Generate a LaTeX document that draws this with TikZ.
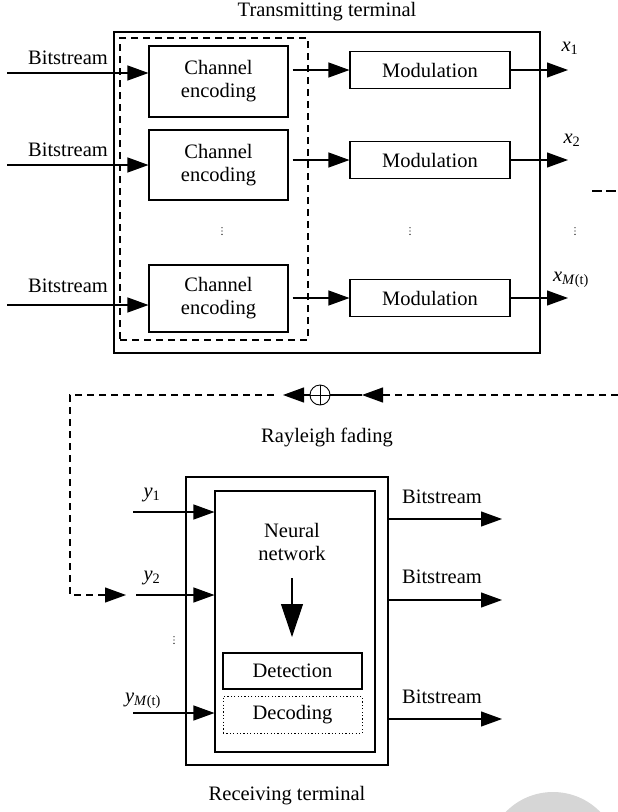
\documentclass[tikz,border=0pt]{standalone}
\usepackage{fontspec}
\setmainfont{Liberation Serif}
\usetikzlibrary{arrows.meta}
\begin{document}
\begin{tikzpicture}[x=1pt,y=-1pt,
  every node/.style={font=\fontsize{20.5}{23}\selectfont},
  line width=1.1pt,
  box/.style={draw, rectangle, inner sep=0pt, align=center},
  lbl/.style={inner sep=0pt, align=center},
  arr/.style={-{Triangle[length=21pt,width=15pt]}},
  bigarr/.style={-{Triangle[length=33pt,width=22pt]}},
  dsh/.style={dash pattern=on 7pt off 5pt},
  dts/.style={inner sep=0pt, minimum width=3pt, minimum height=9pt,
    path picture={\fill (path picture bounding box.center) ++(0,-3.3) circle (0.7pt)
      (path picture bounding box.center) circle (0.7pt)
      (path picture bounding box.center) ++(0,3.3) circle (0.7pt);}}
]
\useasboundingbox (0,0) rectangle (618,812);
% watermark
\begin{scope}
\clip (0,0) rectangle (618,812);
\fill[gray!32] (553,858) circle (66);
\end{scope}

% ---------------- Transmitting terminal ----------------
\node[lbl] (ttitle) at (327,12) {Transmitting terminal};
\node[box, minimum width=426pt, minimum height=321pt] (tx) at (327,192.5) {};
\node[box, dsh, minimum width=188pt, minimum height=302pt] (grp) at (214,189) {};

\node[box, minimum width=139pt, minimum height=71pt] (enc1) at (218.5,81.5) {Channel\\encoding};
\node[box, minimum width=139pt, minimum height=70pt] (enc2) at (218.5,165) {Channel\\encoding};
\node[box, minimum width=139pt, minimum height=67pt] (enc3) at (218.5,298.5) {Channel\\encoding};

\node[box, minimum width=160pt, minimum height=37pt] (mod1) at (430,70) {Modulation};
\node[box, minimum width=160pt, minimum height=37pt] (mod2) at (430,160) {Modulation};
\node[box, minimum width=160pt, minimum height=37pt] (mod3) at (430,298) {Modulation};

% inputs
\coordinate (in1) at (7,73);
\coordinate (in2) at (7,165);
\coordinate (in3) at (7,305);
\node[lbl] (bs1) at (68,58) {Bitstream};
\node[lbl] (bs2) at (68,150) {Bitstream};
\node[lbl] (bs3) at (68,286) {Bitstream};
\draw[arr] (in1) -- (in1 -| enc1.west);
\draw[arr] (in2) -- (in2 -| enc2.west);
\draw[arr] (in3) -- (in3 -| enc3.west);

% encoding -> modulation
\draw[arr, shorten <=4pt] (mod1 -| enc1.east) -- (mod1.west);
\draw[arr, shorten <=4pt] (mod2 -| enc2.east) -- (mod2.west);
\draw[arr, shorten <=4pt] (mod3 -| enc3.east) -- (mod3.west);

% outputs
\coordinate (o1) at (568,70);
\coordinate (o2) at (568,160);
\coordinate (o3) at (568,298);
\draw[arr] (mod1.east) -- (o1);
\draw[arr] (mod2.east) -- (o2);
\draw[arr] (mod3.east) -- (o3);
\node[lbl] (x1) at (570,48) {\textit{x}\textsubscript{1}};
\node[lbl] (x2) at (572,140) {\textit{x}\textsubscript{2}};
\node[lbl] (xm) at (571,280) {\textit{x}\textsubscript{\textit{M}(t)}};

% dots
\node[dts] (d1) at (222,231) {};
\node[dts] (d2) at (410,231) {};
\node[dts] (d3) at (575,231) {};

% dashed fragment at right
\coordinate (f1) at (592,191);
\coordinate (f2) at (618,191);
\draw[dash pattern=on 10pt off 4pt] (f1) -- (f2);

% ---------------- Channel ----------------
\node[draw, circle, inner sep=0pt, minimum size=20pt, line width=0.9pt,
  path picture={\draw[line width=0.9pt] (path picture bounding box.north) -- (path picture bounding box.south)
  (path picture bounding box.west) -- (path picture bounding box.east);}] (sum) at (320,395) {};
\coordinate (cr) at (618,395);
\coordinate (ta) at (362,395);
\coordinate (tb) at (283,395);
\coordinate (cl) at (274,395);
\coordinate (c1) at (70,395);
\coordinate (c2) at (70,595);
\coordinate (c3) at (126,595);
\draw[dsh, arr] (cr) -- (ta);
\draw (ta) -- (sum.east);
\draw[arr] (sum.west) -- (tb);
\draw[dsh, arr] (cl) -- (c1) -- (c2) -- (c3);
\node[lbl] (ray) at (327,437) {Rayleigh fading};

% ---------------- Receiving terminal ----------------
\node[box, minimum width=202pt, minimum height=288pt] (rx) at (287,621) {};
\node[box, minimum width=160pt, minimum height=261pt] (nn) at (295,621.5) {};
\node[lbl] (nntext) at (292,542) {Neural\\network};
\coordinate (na) at (292,578);
\coordinate (nb) at (292,637);
\draw[bigarr] (na) -- (nb);
\node[box, minimum width=139pt, minimum height=36pt] (det) at (292.5,671) {Detection};
\node[box, dash pattern=on 1.2pt off 2.2pt, line width=1pt, minimum width=139pt, minimum height=37pt] (dec) at (292.5,715) {Decoding};

\coordinate (y1s) at (133,512);
\coordinate (y2s) at (136,595);
\coordinate (y3s) at (133,713);
\draw[arr] (y1s) -- (y1s -| nn.west);
\draw[arr] (y2s) -- (y2s -| nn.west);
\draw[arr] (y3s) -- (y3s -| nn.west);
\node[lbl] (y1) at (152,495) {\textit{y}\textsubscript{1}};
\node[lbl] (y2) at (152,578) {\textit{y}\textsubscript{2}};
\node[lbl] (ym) at (143,701) {\textit{y}\textsubscript{\textit{M}(t)}};
\node[dts] (d4) at (174,640) {};

\coordinate (r1) at (502,519);
\coordinate (r2) at (502,600);
\coordinate (r3) at (502,719);
\draw[arr] (r1 -| rx.east) -- (r1);
\draw[arr] (r2 -| rx.east) -- (r2);
\draw[arr] (r3 -| rx.east) -- (r3);
\node[lbl] (ob1) at (442,497) {Bitstream};
\node[lbl] (ob2) at (442,577) {Bitstream};
\node[lbl] (ob3) at (442,697) {Bitstream};

\node[lbl] (rtitle) at (287,796) {Receiving terminal};
\end{tikzpicture}
\end{document}
